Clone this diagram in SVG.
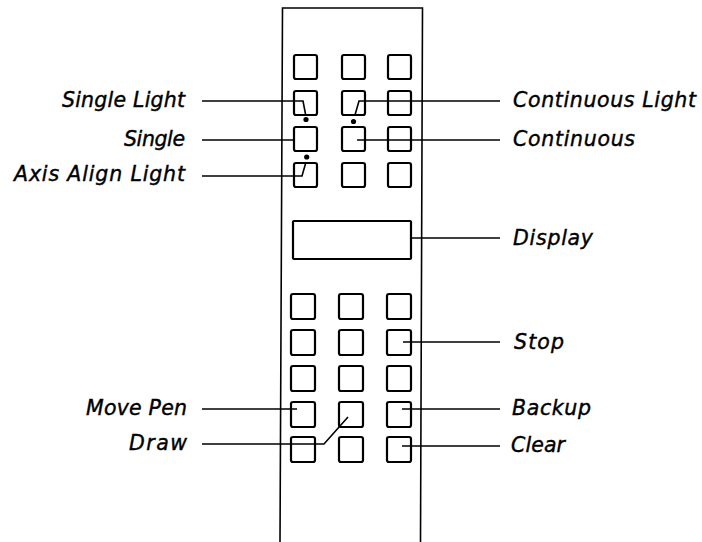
<svg xmlns="http://www.w3.org/2000/svg" width="702" height="542" viewBox="0 0 702 542">
<style>
.btn{fill:none;stroke:#000;stroke-width:2.2}
.frame{fill:none;stroke:#000;stroke-width:1.6}
.ld{fill:none;stroke:#000;stroke-width:1.6}
.lbl{font-family:"DejaVu Sans","Liberation Sans",sans-serif;font-style:italic;font-size:20.5px;fill:#000;stroke:#000;stroke-width:0.4}
.r{text-anchor:end}
</style>
<rect width="702" height="542" fill="#fff"/>
<g id="panel">
<path class="frame" d="M280,542 L282.5,8 L422.5,8 L420.5,542"/>
</g>
<g id="keypad-top">
<rect class="btn" x="294" y="55" width="23" height="24" rx="2"/>
<rect class="btn" x="342" y="55" width="23" height="24" rx="2"/>
<rect class="btn" x="388" y="55" width="23" height="24" rx="2"/>
<rect class="btn" x="294" y="91" width="23" height="24" rx="2"/>
<rect class="btn" x="342" y="91" width="23" height="24" rx="2"/>
<rect class="btn" x="388" y="91" width="23" height="24" rx="2"/>
<rect class="btn" x="294" y="127" width="23" height="24" rx="2"/>
<rect class="btn" x="342" y="127" width="23" height="24" rx="2"/>
<rect class="btn" x="388" y="127" width="23" height="24" rx="2"/>
<rect class="btn" x="294" y="163" width="23" height="24" rx="2"/>
<rect class="btn" x="342" y="163" width="23" height="24" rx="2"/>
<rect class="btn" x="388" y="163" width="23" height="24" rx="2"/>
</g>
<g id="display">
<rect class="btn" x="293" y="221" width="118" height="38" rx="1"/>
</g>
<g id="keypad-bottom">
<rect class="btn" x="291" y="294" width="24" height="25" rx="2"/>
<rect class="btn" x="339" y="294" width="24" height="25" rx="2"/>
<rect class="btn" x="387" y="294" width="24" height="25" rx="2"/>
<rect class="btn" x="291" y="330" width="24" height="25" rx="2"/>
<rect class="btn" x="339" y="330" width="24" height="25" rx="2"/>
<rect class="btn" x="387" y="330" width="24" height="25" rx="2"/>
<rect class="btn" x="291" y="366" width="24" height="25" rx="2"/>
<rect class="btn" x="339" y="366" width="24" height="25" rx="2"/>
<rect class="btn" x="387" y="366" width="24" height="25" rx="2"/>
<rect class="btn" x="291" y="402" width="24" height="25" rx="2"/>
<rect class="btn" x="339" y="402" width="24" height="25" rx="2"/>
<rect class="btn" x="387" y="402" width="24" height="25" rx="2"/>
<rect class="btn" x="291" y="437" width="24" height="25" rx="2"/>
<rect class="btn" x="339" y="437" width="24" height="25" rx="2"/>
<rect class="btn" x="387" y="437" width="24" height="25" rx="2"/>
</g>
<g id="connectors">
<path class="ld" d="M202,101 H303 L305.5,114"/>
<circle cx="306" cy="119.5" r="2.6"/>
<path class="ld" d="M500,101 H359 L355,115"/>
<circle cx="353.5" cy="121.5" r="2.6"/>
<path class="ld" d="M202,140 H295"/>
<path class="ld" d="M357,140 H500"/>
<path class="ld" d="M202,176 H302 L306,162"/>
<circle cx="306.7" cy="157" r="2.6"/>
<path class="ld" d="M411,238 H500"/>
<path class="ld" d="M403,342 H500"/>
<path class="ld" d="M202,409 H297"/>
<path class="ld" d="M402,409 H500"/>
<path class="ld" d="M202,444 H324 L348,417"/>
<path class="ld" d="M402,446 H500"/>
</g>
<g id="labels">
<text class="lbl r" x="185" y="107" textLength="123" lengthAdjust="spacing">Single Light</text>
<text class="lbl r" x="185" y="146" textLength="61" lengthAdjust="spacing">Single</text>
<text class="lbl r" x="185" y="181" textLength="171" lengthAdjust="spacing">Axis Align Light</text>
<text class="lbl" x="513" y="107" textLength="183" lengthAdjust="spacing">Continuous Light</text>
<text class="lbl" x="513" y="146" textLength="122" lengthAdjust="spacing">Continuous</text>
<text class="lbl" x="513" y="245" textLength="80" lengthAdjust="spacing">Display</text>
<text class="lbl" x="514" y="349" textLength="50" lengthAdjust="spacing">Stop</text>
<text class="lbl" x="512" y="415" textLength="79" lengthAdjust="spacing">Backup</text>
<text class="lbl" x="511" y="452" textLength="54" lengthAdjust="spacing">Clear</text>
<text class="lbl r" x="187" y="415" textLength="101" lengthAdjust="spacing">Move Pen</text>
<text class="lbl r" x="187" y="450" textLength="58" lengthAdjust="spacing">Draw</text>
</g>
</svg>
